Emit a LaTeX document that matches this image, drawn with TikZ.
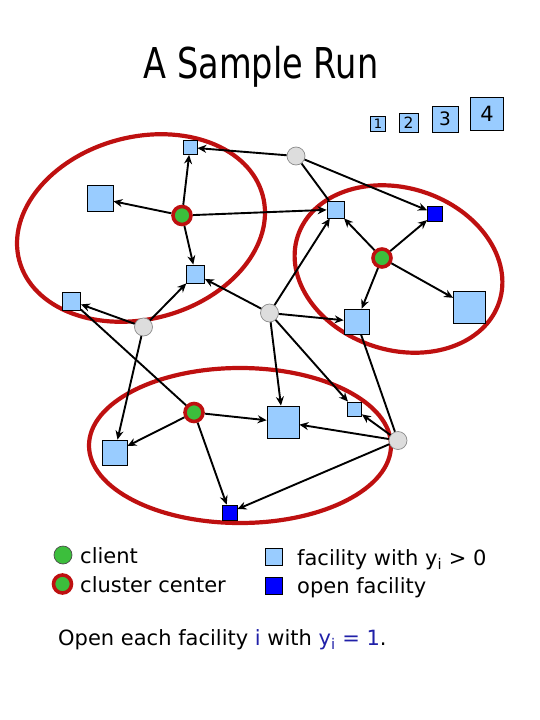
\documentclass[tikz,border=0pt]{standalone}
\usepackage{fontspec}
\setmainfont{DejaVu Sans}
\newfontfamily\titlefont[FakeStretch=0.79]{DejaVu Sans}
\usepackage{tikz}
\usetikzlibrary{arrows.meta}
\usepackage{xcolor}
\definecolor{facblue}{HTML}{99CCFF}
\definecolor{openblue}{HTML}{0000FF}
\definecolor{clientgray}{HTML}{DDDDDD}
\definecolor{clientgreen}{HTML}{3CBE3C}
\definecolor{ringred}{HTML}{BE1010}
\definecolor{txtblue}{HTML}{2020A8}
\tikzset{
  fac/.style={rectangle, draw=black, line width=0.8pt, fill=facblue, minimum size=#1, inner sep=0pt},
  openfac/.style={rectangle, draw=black, line width=0.8pt, fill=openblue, minimum size=#1, inner sep=0pt},
  client/.style={circle, draw=black!45, line width=0.7pt, fill=clientgray, minimum size=18pt, inner sep=0pt},
  ctr/.style={circle, draw=ringred, line width=3.6pt, fill=clientgreen, minimum size=18pt, inner sep=0pt},
  link/.style={line width=1.9pt, -{Stealth[length=9pt,width=8pt]}},
  bare/.style={line width=1.9pt},
  ring/.style={draw=ringred, line width=4.2pt},
  sizebox/.style={rectangle, draw=black, line width=0.8pt, fill=facblue, minimum size=#1, inner sep=0pt},
  legtext/.style={anchor=base west, inner sep=0pt}
}
\begin{document}
\begin{tikzpicture}[x=1pt, y=-1pt, every node/.style={font=\fontsize{21}{25}\selectfont}]
  \useasboundingbox (0,0) rectangle (540,720);
  \node[anchor=base, font=\titlefont\fontsize{42.5}{50}\selectfont] (title) at (261,78) {A Sample Run};

  \node[sizebox=15pt, font=\fontsize{13}{14}\selectfont] (s1) at (378,124) {1};
  \node[sizebox=19pt, font=\fontsize{15.5}{16}\selectfont] (s2) at (408.5,122.5) {2};
  \node[sizebox=26pt, font=\fontsize{18.5}{20}\selectfont] (s3) at (445,119) {3};
  \node[sizebox=33pt, font=\fontsize{21}{22}\selectfont] (s4) at (487,114) {4};

  \draw[ring, rotate around={15:(141,228)}] (141,228) ellipse [x radius=126, y radius=91];
  \draw[ring, rotate around={-18:(398.5,269)}] (398.5,269) ellipse [x radius=106, y radius=81];
  \draw[ring] (240,445.5) ellipse [x radius=151, y radius=77.5];

  \node[fac=14pt] (fa) at (190,147.5) {};
  \node[fac=26pt] (fb) at (100,198.5) {};
  \node[fac=18pt] (fc) at (195.5,274) {};
  \node[fac=18pt] (fd) at (71.5,301) {};
  \node[fac=17pt] (fe) at (335.5,209.5) {};
  \node[openfac=15pt] (o1) at (435,213.5) {};
  \node[fac=32pt] (ff) at (469.5,307) {};
  \node[fac=25pt] (fg) at (356.5,321.5) {};
  \node[fac=25pt] (fh) at (114.5,452.5) {};
  \node[fac=32pt] (fi) at (283,422) {};
  \node[fac=14pt] (fj) at (354.5,409) {};
  \node[openfac=15pt] (o2) at (229.5,512.5) {};

  \node[ctr] (c1) at (182,215.5) {};
  \node[ctr] (c2) at (382,258) {};
  \node[ctr] (c3) at (194,412.5) {};
  \node[client] (u1) at (296,156) {};
  \node[client] (u2) at (143.5,327) {};
  \node[client] (u3) at (269.5,313) {};
  \node[client] (u4) at (398,440.5) {};

  \draw[link] (c1) -- (fa);
  \draw[link] (c1) -- (fb);
  \draw[link] (c1) -- (fc);
  \draw[link] (c1) -- (fe);
  \draw[link] (u1) -- (fa);
  \draw[link] (u1) -- (o1);
  \draw[bare] (u1) -- (fe);
  \draw[link] (c2) -- (fe);
  \draw[link] (c2) -- (o1);
  \draw[link] (c2) -- (ff);
  \draw[link] (c2) -- (fg);
  \draw[link] (u3) -- (fe);
  \draw[link] (u3) -- (fc);
  \draw[link] (u3) -- (fg);
  \draw[link] (u3) -- (fi);
  \draw[link] (u3) -- (fj);
  \draw[link] (u2) -- (fd);
  \draw[link] (u2) -- (fc);
  \draw[link] (u2) -- (fh);
  \draw[bare] (c3) -- (fd);
  \draw[link] (c3) -- (fh);
  \draw[link] (c3) -- (fi);
  \draw[link] (c3) -- (o2);
  \draw[link] (u4) -- (fi);
  \draw[link] (u4) -- (fj);
  \draw[link] (u4) -- (o2);
  \draw[bare] (u4) -- (fg);

  \node[circle, draw=black!70, line width=0.7pt, fill=clientgreen, minimum size=18pt, inner sep=0pt] (k1) at (63,555) {};
  \node[ctr] (k2) at (62.5,584) {};
  \node[legtext] (t1) at (80,563) {client};
  \node[legtext] (t2) at (80,592) {cluster center};
  \node[fac=17pt] (k3) at (274,556.5) {};
  \node[openfac=17pt] (k4) at (274,586) {};
  \node[legtext] (t3) at (297,565) {facility with y\textsubscript{i} > 0};
  \node[legtext] (t4) at (297,593) {open facility};
  \node[legtext] (t5) at (58,645) {Open each facility \textcolor{txtblue}{i} with \textcolor{txtblue}{y\textsubscript{i} = 1}.};
\end{tikzpicture}
\end{document}
